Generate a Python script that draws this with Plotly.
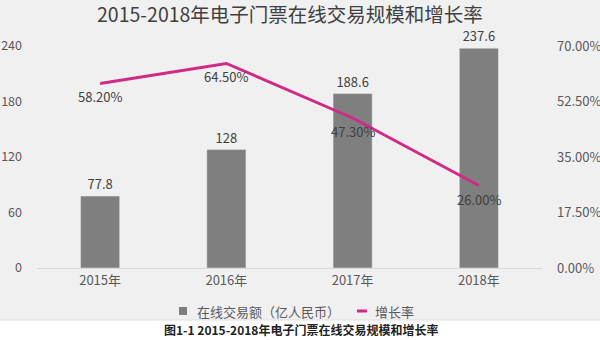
import plotly.graph_objects as go

years = ["2015年", "2016年", "2017年", "2018年"]
volume = [77.8, 128, 188.6, 237.6]
growth = [0.582, 0.645, 0.473, 0.26]
volume_labels = ["77.8", "128", "188.6", "237.6"]
growth_labels = ["58.20%", "64.50%", "47.30%", "26.00%"]
left_ticks = [0, 60, 120, 180, 240]
right_ticks = [0, 0.175, 0.35, 0.525, 0.70]
right_tick_text = ["0.00%", "17.50%", "35.00%", "52.50%", "70.00%"]

title = "2015-2018年电子门票在线交易规模和增长率"
caption = "图1-1 2015-2018年电子门票在线交易规模和增长率"
bar_name = "在线交易额（亿人民币）"
line_name = "增长率"

FONT = "Noto Sans CJK SC, DejaVu Sans, sans-serif"
BAR_COLOR = "#7f7f7f"
LINE_COLOR = "#cf2a85"

W, H = 600, 340
L, R, T, B = 37, 58, 46, 72
pw, ph = W - L - R, H - T - B


def px_x(x):
    return (x - L) / pw


def px_y(y):
    return (H - B - y) / ph


fig = go.Figure()
fig.add_trace(go.Bar(
    x=years, y=volume, name=bar_name,
    marker=dict(color=BAR_COLOR),
    text=volume_labels, textposition="outside",
    textfont=dict(size=13, color="#404040"),
    cliponaxis=False, showlegend=False,
))
fig.add_trace(go.Scatter(
    x=years, y=growth, name=line_name, yaxis="y2",
    mode="lines",
    line=dict(color=LINE_COLOR, width=3),
    cliponaxis=False, showlegend=False,
))

annotations = []
for yr, g, lab in zip(years, growth, growth_labels):
    annotations.append(dict(
        x=yr, y=g, xref="x", yref="y2", text=lab, showarrow=False,
        xanchor="center", yanchor="top", yshift=-2,
        font=dict(size=13, color="#404040"),
    ))

annotations += [
    dict(text=title, xref="paper", yref="paper",
         x=px_x(290), y=px_y(14), xanchor="center", yanchor="middle",
         showarrow=False, font=dict(size=19.5, color="#404040")),
    dict(text="<b>" + caption + "</b>", xref="paper", yref="paper",
         x=px_x(301), y=px_y(329), xanchor="center", yanchor="middle",
         showarrow=False, font=dict(size=12, color="#222222")),
    dict(text=bar_name, xref="paper", yref="paper",
         x=px_x(195), y=px_y(311), xanchor="left", yanchor="middle",
         showarrow=False, font=dict(size=13, color="#595959")),
    dict(text=line_name, xref="paper", yref="paper",
         x=px_x(373), y=px_y(311), xanchor="left", yanchor="middle",
         showarrow=False, font=dict(size=13, color="#595959")),
]

shapes = [
    dict(type="rect", xref="paper", yref="paper", layer="below",
         x0=px_x(-1), x1=px_x(601), y0=px_y(320), y1=px_y(-1),
         fillcolor="#f1f0f1", line=dict(color="#e0e0e0", width=1)),
    dict(type="rect", xref="paper", yref="paper",
         x0=px_x(179), x1=px_x(187), y0=px_y(315), y1=px_y(307),
         fillcolor=BAR_COLOR, line=dict(width=0)),
    dict(type="line", xref="paper", yref="paper",
         x0=px_x(357), x1=px_x(367), y0=px_y(311), y1=px_y(311),
         line=dict(color=LINE_COLOR, width=3)),
]

fig.update_layout(
    width=W, height=H,
    margin=dict(l=L, r=R, t=T, b=B, autoexpand=False),
    paper_bgcolor="white",
    plot_bgcolor="rgba(0,0,0,0)",
    font=dict(family=FONT, color="#595959", size=12),
    bargap=0.69,
    showlegend=False,
    xaxis=dict(
        showline=True, linecolor="#d9d9d9", linewidth=1,
        ticks="", tickfont=dict(size=13, color="#595959"),
        showgrid=False,
    ),
    yaxis=dict(
        range=[0, 240], tickvals=left_ticks, showgrid=False,
        zeroline=False, showline=False, ticks="",
        tickfont=dict(size=12.5, color="#595959"),
        ticklabelstandoff=14,
    ),
    yaxis2=dict(
        range=[0, 0.70], overlaying="y", side="right",
        tickvals=right_ticks, ticktext=right_tick_text,
        showgrid=False, zeroline=False, showline=False, ticks="",
        tickfont=dict(size=13, color="#595959"),
        ticklabelstandoff=14,
    ),
    shapes=shapes,
    annotations=annotations,
)

fig.write_html("out.html")
